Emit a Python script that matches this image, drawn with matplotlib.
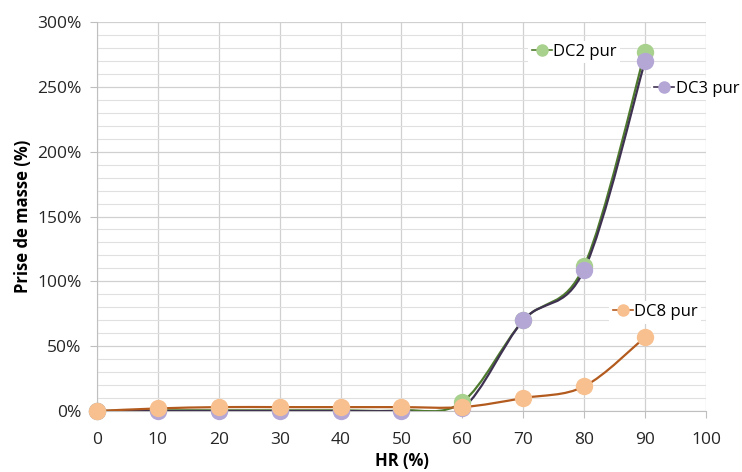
import numpy as np
import matplotlib
matplotlib.use("Agg")
import matplotlib.pyplot as plt
from matplotlib.path import Path
from matplotlib.patches import PathPatch
from matplotlib.lines import Line2D
from matplotlib.ticker import MultipleLocator, FuncFormatter

plt.rcParams['font.family'] = ['Open Sans', 'DejaVu Sans']

hr = [0, 10, 20, 30, 40, 50, 60, 70, 80, 90]
dc2 = [0, 0.5, 0.5, 0.5, 0.5, 0.5, 7, 70, 112, 277]
dc3 = [0, 0, 0, 0, 0, 0, 2, 70, 109, 270]
dc8 = [0, 2, 3, 3, 3, 3, 3, 10, 19, 57]

series = [
    ("DC2 pur", dc2, "#A9D18E", "#4E7A2E"),
    ("DC3 pur", dc3, "#B4A7D6", "#3F3151"),
    ("DC8 pur", dc8, "#F8C08F", "#B35B1E"),
]


def smooth_path(x, y):
    # Excel-like smoothed line: cubic bezier segments through the points
    x = np.asarray(x, float)
    y = np.asarray(y, float)
    verts = [(x[0], y[0])]
    codes = [Path.MOVETO]
    n = len(x)
    for i in range(n - 1):
        p0 = np.array([x[max(i - 1, 0)], y[max(i - 1, 0)]])
        p1 = np.array([x[i], y[i]])
        p2 = np.array([x[i + 1], y[i + 1]])
        p3 = np.array([x[min(i + 2, n - 1)], y[min(i + 2, n - 1)]])
        c1 = p1 + (p2 - p0) / 6
        c2 = p2 - (p3 - p1) / 6
        verts += [tuple(c1), tuple(c2), tuple(p2)]
        codes += [Path.CURVE4] * 3
    return Path(verts, codes)


fig = plt.figure(figsize=(7.42, 4.72), dpi=100)
ax = fig.add_axes([0.1307, 0.1292, 0.8208, 0.8242])

for name, vals, mcol, lcol in series:
    ax.add_patch(PathPatch(smooth_path(hr, vals), facecolor="none",
                           edgecolor=lcol, lw=1.6, zorder=3))
    ax.plot(hr, vals, ls="none", marker="o", ms=12.5, color=mcol, zorder=4,
            markeredgewidth=0, clip_on=False)

ax.set_xlim(0, 100)
ax.set_ylim(0, 300)
ax.xaxis.set_major_locator(MultipleLocator(10))
ax.yaxis.set_major_locator(MultipleLocator(50))
ax.yaxis.set_minor_locator(MultipleLocator(10))
ax.yaxis.set_major_formatter(FuncFormatter(lambda v, p: f"{int(v)}%"))
ax.grid(True, which="major", color="#D0D0D0", lw=0.9)
ax.grid(True, which="minor", axis="y", color="#E0E0E0", lw=0.8)
ax.set_axisbelow(True)
for s in ["top", "right"]:
    ax.spines[s].set_visible(False)
for s in ["left", "bottom"]:
    ax.spines[s].set_color("#BFBFBF")
ax.tick_params(which="major", length=5, color="#BFBFBF", labelsize=12.5,
               labelcolor="#262626")
ax.tick_params(axis="y", pad=6)
ax.tick_params(axis="x", pad=10)
ax.tick_params(which="minor", length=0)
ax.set_xlabel("HR (%)", fontsize=12, fontweight="bold", labelpad=3)
ax.set_ylabel("Prise de masse (%)", fontsize=12, fontweight="bold", labelpad=4)

# data labels with legend keys
label_pos = {"DC2 pur": (0.708, 0.923), "DC3 pur": (0.909, 0.828), "DC8 pur": (0.841, 0.254)}
for name, vals, mcol, lcol in series:
    h = Line2D([], [], color=lcol, lw=1.2, marker="o", ms=8, mfc=mcol, mec=mcol)
    lg = ax.legend(handles=[h], labels=[name], loc="center left",
                   bbox_to_anchor=label_pos[name], frameon=True, fancybox=False,
                   edgecolor="none", facecolor="white", framealpha=1,
                   fontsize=12, handlelength=1.2, handletextpad=0.1,
                   borderpad=0.2, borderaxespad=0)
    lg.set_zorder(5)
    ax.add_artist(lg)

fig.savefig("out.png", dpi=100)
